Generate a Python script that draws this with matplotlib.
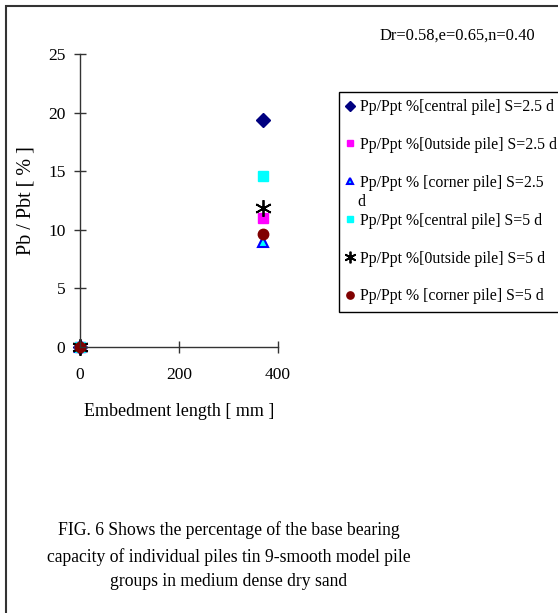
from matplotlib import pyplot as plt
from matplotlib.patches import Rectangle

# embedment length [mm] and Pb/Pbt [%] for each series
embedment = [0, 370]
central_25 = [0, 19.4]
outside_25 = [0, 11.0]
corner_25 = [0, 9.0]
central_5 = [0, 14.6]
outside_5 = [0, 11.9]
corner_5 = [0, 9.6]

labels = [
    "Pp/Ppt %[central pile] S=2.5 d",
    "Pp/Ppt %[0utside pile] S=2.5 d",
    "Pp/Ppt % [corner pile] S=2.5",
    "Pp/Ppt %[central pile] S=5 d",
    "Pp/Ppt %[0utside pile] S=5 d",
    "Pp/Ppt % [corner pile] S=5 d",
]
x_ticks = [0, 200, 400]
y_ticks = [0, 5, 10, 15, 20, 25]

plt.rcParams["font.family"] = ["Liberation Serif", "DejaVu Serif"]

W, H = 558, 613
fig = plt.figure(figsize=(W / 100, H / 100), dpi=100)
ax = fig.add_axes([80 / W, 1 - 347 / H, 198 / W, 293 / H])

ax.plot(embedment, central_25, "D", color="#000080", ms=7, ls="none",
        label=labels[0], clip_on=False)
ax.plot(embedment, outside_25, "s", color="#FF00FF", ms=7, ls="none",
        label=labels[1], clip_on=False)
ax.plot(embedment, corner_25, "^", mfc="#00FFFF", mec="#0000FF", mew=1.5, ms=7,
        ls="none", label=labels[2], clip_on=False)
ax.plot(embedment, central_5, "s", color="#00FFFF", ms=7, ls="none",
        label=labels[3], clip_on=False)
ax.plot(embedment, outside_5, marker=(6, 2, 0), color="black", mew=1.3, ms=12,
        ls="none", label=labels[4], clip_on=False)
ax.plot(embedment, corner_5, "o", color="#800000", ms=7.5, ls="none",
        label=labels[5], clip_on=False)

ax.set_xlim(0, 400)
ax.set_ylim(0, 25)
ax.set_xticks(x_ticks)
ax.set_yticks(y_ticks)
ax.spines["top"].set_visible(False)
ax.spines["right"].set_visible(False)
for s in ("left", "bottom"):
    ax.spines[s].set_color("#333333")
    ax.spines[s].set_linewidth(1)
ax.tick_params(direction="inout", length=9, width=1, color="#333333",
               labelsize=12.5)
ax.tick_params(axis="y", pad=6)
ax.tick_params(axis="x", pad=10)
ax.patch.set_alpha(0)

ax.set_ylabel("Pb / Pbt [ % ]", fontsize=14.5, labelpad=9)
ax.set_xlabel("Embedment length [ mm ]", fontsize=13, labelpad=14)

leg = fig.legend(loc="upper left", bbox_to_anchor=(339 / W, 1 - 92 / H),
                 bbox_transform=fig.transFigure, borderaxespad=0,
                 fontsize=11.4, frameon=True, fancybox=False, framealpha=1,
                 edgecolor="black", markerscale=0.7, handlelength=0.55,
                 handletextpad=0.35, borderpad=0.45, labelspacing=1.38)
leg.get_frame().set_linewidth(1)
fig.text(357 / W, 1 - 202 / H, "d", fontsize=11.4, va="center", ha="left",
         zorder=10)

fig.text(380 / W, 1 - 36 / H, "Dr=0.58,e=0.65,n=0.40", fontsize=11.9,
         va="center", ha="left")

fig.text(229 / W, 1 - 556 / H,
         "FIG. 6 Shows the percentage of the base bearing\n"
         "capacity of individual piles tin 9-smooth model pile\n"
         "groups in medium dense dry sand",
         fontsize=12.7, ha="center", va="center", linespacing=1.6)

# page frame (left and top edges visible)
fig.patches.append(Rectangle((5.5 / W, -0.5), 2, 1.5 - 5.5 / H, fill=False,
                             edgecolor="#333333", linewidth=1.5,
                             transform=fig.transFigure, figure=fig))

plt.savefig("out.png", dpi=100)
plt.close()
